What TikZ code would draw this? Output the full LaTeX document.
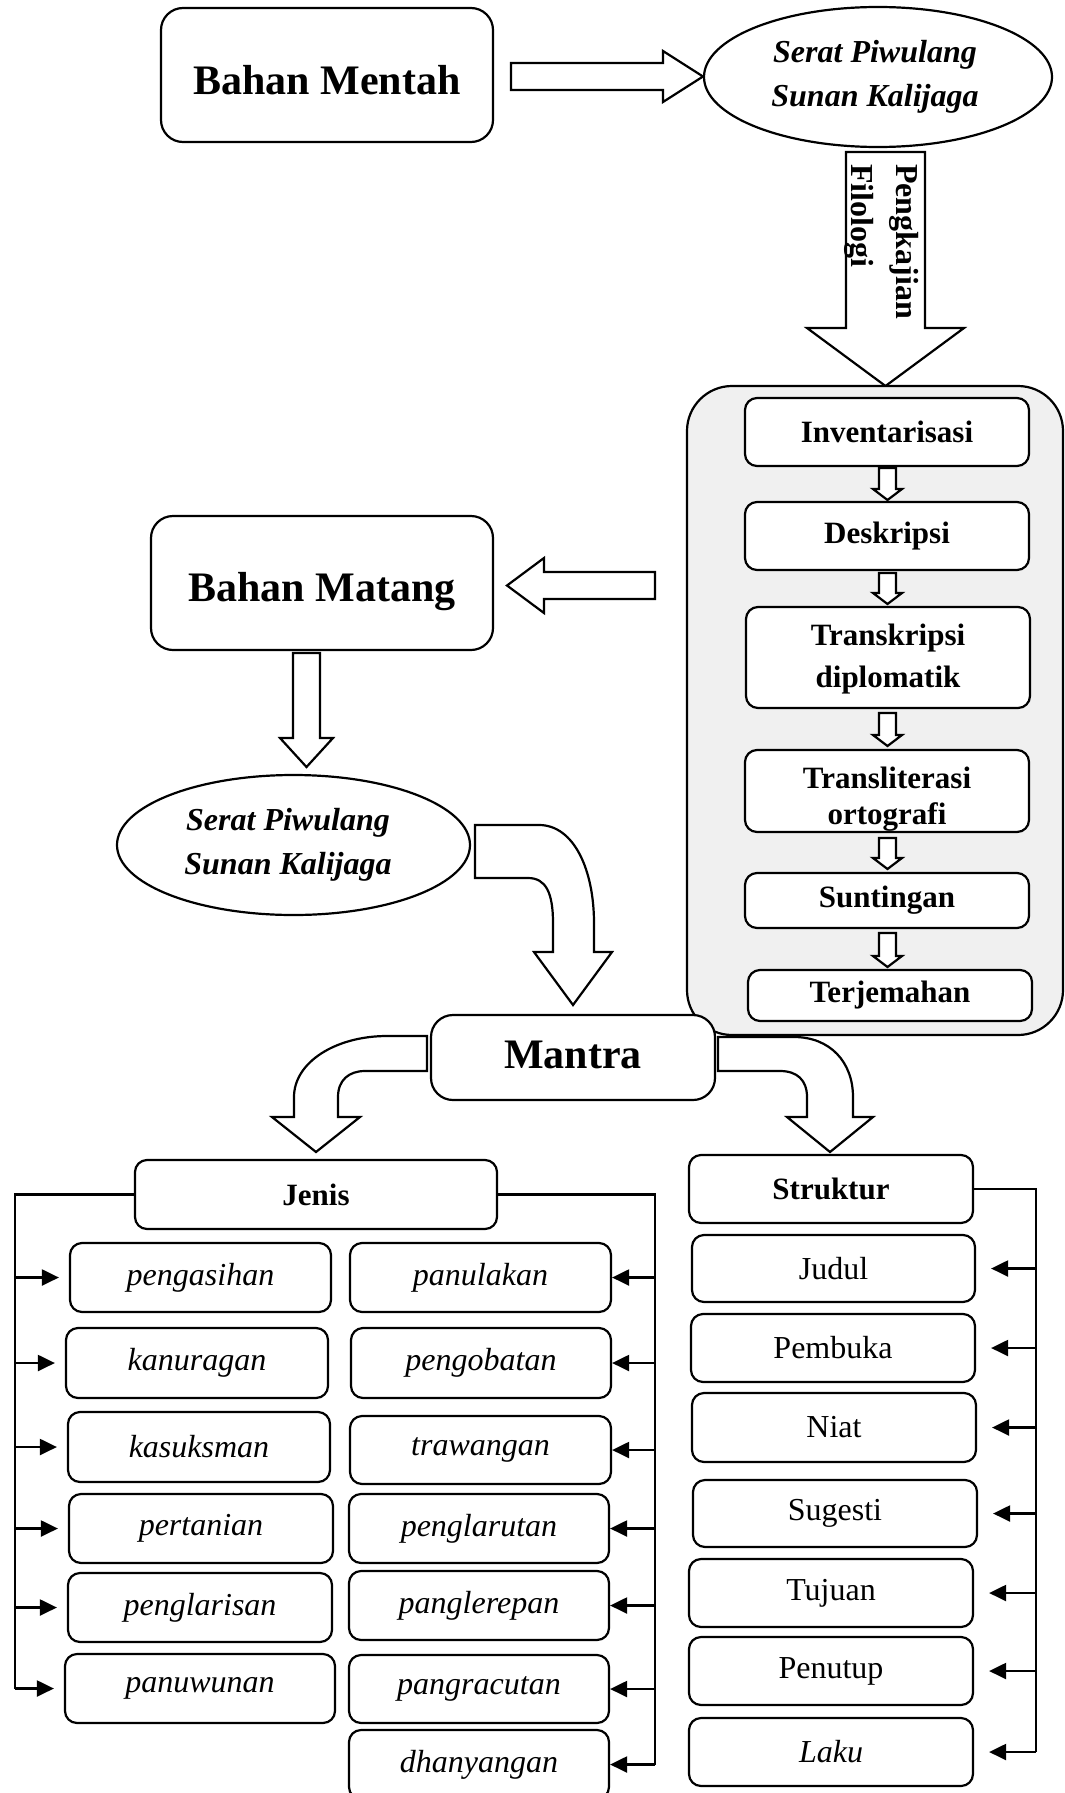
\documentclass[tikz,border=0pt]{standalone}
\usepackage{fontspec}
\setmainfont{Liberation Serif}
\usetikzlibrary{shapes.geometric,arrows.meta,calc}
\definecolor{cgray}{RGB}{240,240,240}
\tikzset{
  bigbox/.style={draw, line width=2.2pt, rounded corners=22pt, fill=white, inner sep=0pt, font=\fontsize{42}{50}\selectfont\bfseries},
  stepbox/.style={draw, line width=2.2pt, rounded corners=12pt, fill=white, inner sep=0pt, align=center, font=\fontsize{31}{42}\selectfont\bfseries},
  itembox/.style={draw, line width=2.2pt, rounded corners=12pt, fill=white, inner sep=0pt, font=\fontsize{32}{38}\selectfont\itshape},
  partbox/.style={draw, line width=2.2pt, rounded corners=12pt, fill=white, inner sep=0pt, font=\fontsize{32}{38}\selectfont},
  oval/.style={draw, ellipse, line width=2.2pt, fill=white, inner sep=0pt, minimum height=140pt},
  ovaltext/.style={align=center, inner sep=0pt, font=\fontsize{32}{44}\selectfont\bfseries\itshape},
  steptext/.style={align=center, inner sep=0pt, font=\fontsize{31}{36}\selectfont\bfseries},
  blk/.style={draw, line width=2.2pt, fill=white, line join=miter},
  wire/.style={line width=2.2pt},
  arr/.style={line width=2.2pt, -{Triangle[length=17pt,width=16pt]}},
}
\newcommand\sarrow[2]{\draw[blk] (879,#1) -- (896,#1) -- (896,{#2-11}) -- (902,{#2-11}) -- (887.5,#2) -- (873,{#2-11}) -- (879,{#2-11}) -- cycle;}
\begin{document}
\begin{tikzpicture}[x=1pt,y=-1pt]
\useasboundingbox (0,0) rectangle (1065,1793);
\fill[white] (0,0) rectangle (1065,1793);
\clip (0,0) rectangle (1065,1793);

% top row
\node[bigbox, minimum width=332pt, minimum height=134pt, text height=38pt, text depth=0pt] (bm) at (327,75) {Bahan Mentah};
\draw[blk] (511,63) -- (663,63) -- (663,51) -- (703,76.5) -- (663,102) -- (663,90) -- (511,90) -- cycle;
\node[oval, minimum width=348pt] (e1) at (878,77) {};
\node[ovaltext] (e1t) at (875,77) {Serat Piwulang\\Sunan Kalijaga};

% Pengkajian Filologi arrow
\draw[blk] (846,152) -- (925,152) -- (925,328) -- (964,328) -- (885.5,386) -- (807,328) -- (846,328) -- cycle;
\node[rotate=-90, anchor=north west, align=left, inner sep=0pt, font=\fontsize{32}{45}\selectfont\bfseries] (pf) at (919,164) {Pengkajian\\Filologi};

% container
\node[draw, line width=2.2pt, fill=cgray, rounded corners=45pt, minimum width=376pt, minimum height=649pt, inner sep=0pt] (cont) at (875,710.5) {};
\node[stepbox, minimum width=284pt, minimum height=68pt] (inv) at (887,432) {Inventarisasi};
\node[stepbox, minimum width=284pt, minimum height=68pt] (desk) at (887,536) {Deskripsi};
\node[stepbox, minimum width=284pt, minimum height=101pt] (trans) at (888,657.5) {};
\node[steptext, font=\fontsize{31}{42}\selectfont\bfseries] (transt) at ([yshift=-2pt]trans.center) {Transkripsi\\diplomatik};
\node[stepbox, minimum width=284pt, minimum height=82pt] (transl) at (887,791) {};
\node[steptext] (translt) at ([yshift=-8pt]transl.center) {Transliterasi\\ortografi};
\node[stepbox, minimum width=284pt, minimum height=55pt] (sunt) at (887,900.5) {Suntingan};
\node[stepbox, minimum width=284pt, minimum height=51pt] (terj) at (890,995.5) {Terjemahan};
\sarrow{468}{500}
\sarrow{573}{604}
\sarrow{713}{746}
\sarrow{838}{869}
\sarrow{933}{967}

% Bahan Matang
\draw[blk] (655,572) -- (544,572) -- (544,558) -- (507,585.5) -- (544,613) -- (544,599) -- (655,599) -- cycle;
\node[bigbox, minimum width=342pt, minimum height=134pt, text height=37pt, text depth=0pt] (bmat) at (322,583) {Bahan Matang};
\draw[blk] (293,653) -- (320,653) -- (320,738) -- (333,738) -- (306.5,767) -- (280,738) -- (293,738) -- cycle;
\node[oval, minimum width=353pt] (e2) at (293.5,845) {};
\node[ovaltext] (e2t) at (288,845) {Serat Piwulang\\Sunan Kalijaga};

% curved arrow to Mantra
\draw[blk] (475,825) -- (539,825) .. controls (574,825) and (594,870) .. (594,923) -- (594,952) -- (612,952) -- (573,1005) -- (534,952) -- (553,952) -- (553,923) .. controls (553,893) and (546,878) .. (528,878) -- (475,878) -- cycle;

% Mantra
\node[bigbox, minimum width=284pt, minimum height=85pt, text height=22pt, text depth=0pt] (mantra) at (573,1057.5) {Mantra};
\draw[blk] (427,1036) -- (387,1036) .. controls (336,1036) and (294,1062) .. (294,1097) -- (294,1117) -- (272,1117) -- (316,1152) -- (360,1117) -- (338,1117) -- (338,1097) .. controls (338,1080) and (349,1071) .. (365,1071) -- (427,1071) -- cycle;
\draw[blk] (718,1037) -- (794,1037) .. controls (830,1037) and (853,1062) .. (853,1097) -- (853,1117) -- (873,1117) -- (830,1152) -- (787,1117) -- (807,1117) -- (807,1097) .. controls (807,1080) and (797,1071) .. (780,1071) -- (718,1071) -- cycle;

% Jenis
\node[stepbox, minimum width=362pt, minimum height=69pt] (jenis) at (316,1194.5) {Jenis};
\node[itembox, minimum width=261pt, minimum height=69pt] (pengasihan) at (200.5,1277.5) {pengasihan};
\node[itembox, minimum width=262pt, minimum height=70pt] (kanuragan) at (197,1363) {kanuragan};
\node[itembox, minimum width=262pt, minimum height=70pt] (kasuksman) at (199,1447) {kasuksman};
\node[itembox, minimum width=264pt, minimum height=69pt] (pertanian) at (201,1528.5) {pertanian};
\node[itembox, minimum width=264pt, minimum height=69pt] (penglarisan) at (200,1607.5) {penglarisan};
\node[itembox, minimum width=270pt, minimum height=69pt] (panuwunan) at (200,1688.5) {panuwunan};
\node[itembox, minimum width=261pt, minimum height=69pt] (panulakan) at (480.5,1277.5) {panulakan};
\node[itembox, minimum width=260pt, minimum height=70pt] (pengobatan) at (481,1363) {pengobatan};
\node[itembox, minimum width=261pt, minimum height=68pt] (trawangan) at (480.5,1450) {trawangan};
\node[itembox, minimum width=260pt, minimum height=69pt] (penglarutan) at (479,1528.5) {penglarutan};
\node[itembox, minimum width=260pt, minimum height=69pt] (panglerepan) at (479,1605.5) {panglerepan};
\node[itembox, minimum width=260pt, minimum height=68pt] (pangracutan) at (479,1689) {pangracutan};
\node[itembox, minimum width=260pt, minimum height=69pt] (dhanyangan) at (479,1764.5) {dhanyangan};

\coordinate (lx) at (15,0);
\coordinate (rx) at (655,0);
\draw[wire] (jenis.west) -- (jenis.west -| lx) -- (lx |- panuwunan.west);
\foreach \n in {pengasihan,kanuragan,kasuksman,pertanian,penglarisan,panuwunan}
  \draw[arr] (lx |- \n.west) -- ([xshift=-10pt]\n.west);
\draw[wire] (jenis.east) -- (jenis.east -| rx) -- (rx |- dhanyangan.east);
\foreach \n in {panulakan,pengobatan,trawangan,penglarutan,panglerepan,pangracutan,dhanyangan}
  \draw[arr] (rx |- \n.east) -- (\n.east);

% Struktur
\node[stepbox, minimum width=284pt, minimum height=68pt] (struk) at (831,1189) {Struktur};
\node[partbox, minimum width=283pt, minimum height=67pt] (judul) at (833.5,1268.5) {Judul};
\node[partbox, minimum width=284pt, minimum height=68pt] (pembuka) at (833,1348) {Pembuka};
\node[partbox, minimum width=284pt, minimum height=69pt] (niat) at (834,1427.5) {Niat};
\node[partbox, minimum width=284pt, minimum height=67pt] (sugesti) at (835,1513.5) {Sugesti};
\node[partbox, minimum width=284pt, minimum height=68pt] (tujuan) at (831,1593) {Tujuan};
\node[partbox, minimum width=284pt, minimum height=68pt] (penutup) at (831,1671) {Penutup};
\node[partbox, minimum width=284pt, minimum height=68pt, font=\fontsize{32}{38}\selectfont\itshape] (laku) at (831,1752) {Laku};
\coordinate (sx) at (1036,0);
\draw[wire] (struk.east) -- (struk.east -| sx) -- (sx |- laku.east);
\foreach \n in {judul,pembuka,niat,sugesti,tujuan,penutup,laku}
  \draw[arr] (sx |- \n.east) -- ([xshift=15pt]\n.east);
\end{tikzpicture}
\end{document}
